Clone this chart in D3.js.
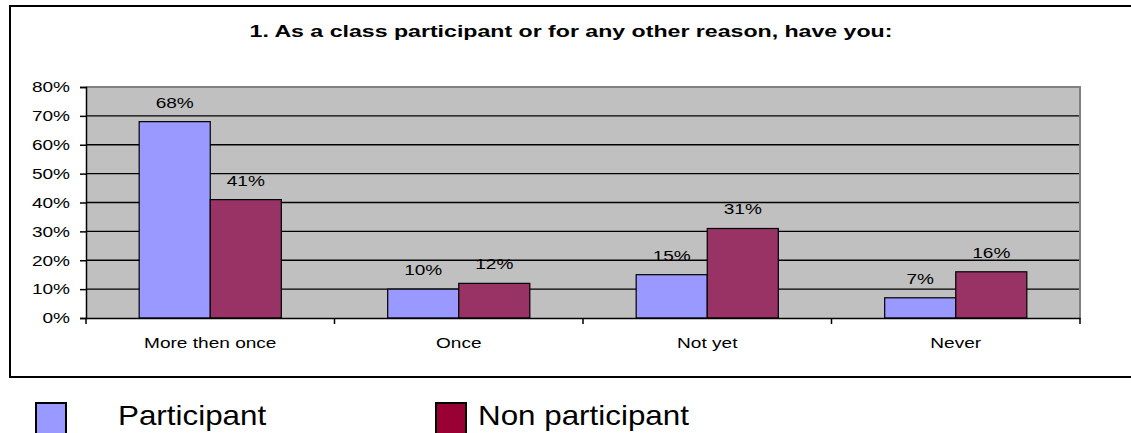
<!DOCTYPE html>
<html><head><meta charset="utf-8">
<script src="https://cdn.jsdelivr.net/npm/d3@7"></script>
<style>body{margin:0;background:#fff}svg{display:block}text{font-family:Arial,"Liberation Sans",sans-serif}</style>
</head><body>
<svg id="c" width="1131" height="433"></svg>
<script>
const title = "1. As a class participant or for any other reason, have you:";
const categories = ["More then once", "Once", "Not yet", "Never"];
const seriesNames = ["Participant", "Non participant"];
const participant = [68, 10, 15, 7];
const nonParticipant = [41, 12, 31, 16];
const yTicks = [0, 10, 20, 30, 40, 50, 60, 70, 80];

const svg = d3.select("#c");
const W = 1131, H = 433;
const plot = {l: 86, t: 87, r: 1080, b: 318};
const sx = 1.27;

function stretch(sel, f) {
  sel.each(function() {
    const w = this.getComputedTextLength();
    d3.select(this).attr("textLength", w * (f || sx)).attr("lengthAdjust", "spacingAndGlyphs");
  });
}

// outer frame
svg.append("rect").attr("x", 10).attr("y", 6).attr("width", 1140).attr("height", 371)
  .attr("fill", "#fff").attr("stroke", "#000").attr("stroke-width", 2);

const x0 = d3.scaleBand().domain(categories).range([plot.l, plot.r]);
const bw = x0.bandwidth();
const grp = bw * 0.572;
const x1 = d3.scaleBand().domain(seriesNames).range([(bw - grp) / 2, (bw + grp) / 2]);
const y = d3.scaleLinear().domain([0, 80]).range([plot.b, plot.t]);
const colors = {"Participant": "#9999FF", "Non participant": "#993366"};

// plot bg
svg.append("rect").attr("x", plot.l).attr("y", plot.t).attr("width", plot.r - plot.l).attr("height", plot.b - plot.t)
  .attr("fill", "#C0C0C0");

// gridlines
svg.append("g").selectAll("line").data(yTicks.filter(d => d > 0 && d < 80)).join("line")
  .attr("x1", plot.l).attr("x2", plot.r).attr("y1", d => y(d)).attr("y2", d => y(d))
  .attr("stroke", "#000").attr("stroke-width", 1.3);

// plot border top/right gray
svg.append("path").attr("d", `M${plot.l},${plot.t}H${plot.r}V${plot.b}`)
  .attr("fill", "none").attr("stroke", "#808080").attr("stroke-width", 2);

// bars
const rows = categories.map((c, i) => ({cat: c, vals: [
  {s: seriesNames[0], v: participant[i]}, {s: seriesNames[1], v: nonParticipant[i]}]}));
const g = svg.append("g").selectAll("g").data(rows).join("g")
  .attr("transform", d => `translate(${x0(d.cat)},0)`);
g.selectAll("rect").data(d => d.vals).join("rect")
  .attr("x", d => x1(d.s)).attr("width", x1.bandwidth())
  .attr("y", d => y(d.v)).attr("height", d => y(0) - y(d.v))
  .attr("fill", d => colors[d.s]).attr("stroke", "#000").attr("stroke-width", 1.2);
g.selectAll("text").data(d => d.vals).join("text")
  .attr("x", d => x1(d.s) + x1.bandwidth() / 2).attr("y", d => y(d.v) - 14)
  .attr("text-anchor", "middle").attr("font-size", 15).attr("fill", "#000")
  .text(d => d.v + "%").call(stretch);

// y axis
const yAxis = svg.append("g").attr("transform", `translate(${plot.l},0)`)
  .call(d3.axisLeft(y).tickValues(yTicks).tickFormat(d => d + "%").tickSize(6).tickPadding(10));
yAxis.select(".domain").attr("stroke", "#000").attr("stroke-width", 1.5);
yAxis.selectAll(".tick line").attr("stroke", "#000").attr("stroke-width", 1.5);
yAxis.selectAll("text").attr("font-size", 15).attr("fill", "#000").attr("font-family", "Arial, 'Liberation Sans', sans-serif").call(stretch);

// x axis
const xAxis = svg.append("g").attr("transform", `translate(0,${plot.b})`)
  .call(d3.axisBottom(x0).tickSize(0).tickPadding(0));
xAxis.select(".domain").attr("stroke", "#000").attr("stroke-width", 1.5);
xAxis.selectAll(".tick text").attr("y", 30).attr("dy", 0).attr("font-size", 15).attr("fill", "#000")
  .attr("font-family", "Arial, 'Liberation Sans', sans-serif").call(stretch);
svg.append("g").selectAll("line").data(d3.range(categories.length + 1)).join("line")
  .attr("x1", i => plot.l + i * bw).attr("x2", i => plot.l + i * bw)
  .attr("y1", plot.b).attr("y2", plot.b + 6).attr("stroke", "#000").attr("stroke-width", 1.5);

// title
svg.append("text").attr("x", 571).attr("y", 37).attr("text-anchor", "middle")
  .attr("font-size", 17).attr("font-weight", "bold").text(title).call(stretch, 1.36);

// legend
const leg = [{s: seriesNames[0], c: "#9999FF", x: 36, tx: 118}, {s: seriesNames[1], c: "#990033", x: 436, tx: 478}];
leg.forEach(d => {
  svg.append("rect").attr("x", d.x).attr("y", 403).attr("width", 30).attr("height", 40)
    .attr("fill", d.c).attr("stroke", "#000").attr("stroke-width", 2);
  svg.append("text").attr("x", d.tx).attr("y", 425).attr("font-size", 28).text(d.s).call(stretch, 1.12);
});
</script>
</body></html>
